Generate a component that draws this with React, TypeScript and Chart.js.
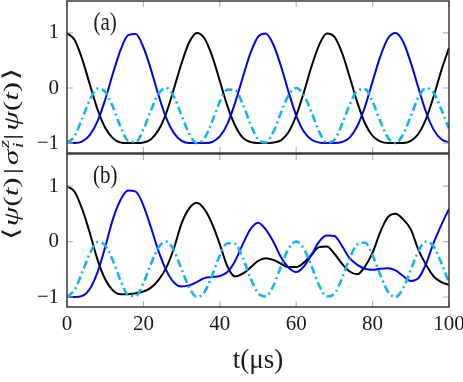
import React, { useEffect, useRef } from 'react';
import { Chart, registerables } from 'chart.js';
Chart.register(...registerables);

// time axis (μs)
const times = [0, 2, 4, 6, 8, 10, 12, 14, 16, 18, 20, 22, 24, 26, 28, 30, 32, 34, 36, 38, 40, 42, 44, 46, 48, 50,
  52, 54, 56, 58, 60, 62, 64, 66, 68, 70, 72, 74, 76, 78, 80, 82, 84, 86, 88, 90, 92, 94, 96, 98, 100];

// panel (a)
const blackA = [1.00, 0.87, 0.52, 0.06, -0.39, -0.72, -0.91, -0.99, -1.00, -1.00, -0.99, -0.93, -0.76, -0.45, -0.01, 0.45, 0.83,
  1.00, 0.90, 0.58, 0.13, -0.33, -0.68, -0.90, -0.98, -1.00, -1.00, -0.99, -0.95, -0.80, -0.50, -0.08, 0.39, 0.78, 0.99,
  0.93, 0.64, 0.20, -0.26, -0.64, -0.87, -0.97, -1.00, -1.00, -1.00, -0.96, -0.83, -0.56, -0.15, 0.32, 0.73];
const blueA = [-1.00, -1.00, -0.97, -0.85, -0.60, -0.21, 0.26, 0.69, 0.96, 0.98, 0.74, 0.33, -0.14, -0.55, -0.82, -0.96, -1.00,
  -1.00, -1.00, -0.98, -0.88, -0.65, -0.27, 0.19, 0.63, 0.93, 0.99, 0.79, 0.40, -0.07, -0.50, -0.79, -0.94, -0.99, -1.00,
  -1.00, -0.98, -0.90, -0.69, -0.34, 0.12, 0.57, 0.90, 1.00, 0.84, 0.46, 0.00, -0.44, -0.76, -0.93, -0.99];
const cyanA = [-1.00, -0.87, -0.55, -0.21, -0.01, -0.07, -0.34, -0.70, -0.96, -0.98, -0.75, -0.40, -0.10, 0.00, -0.16, -0.50,
  -0.83, -1.00, -0.91, -0.61, -0.25, -0.03, -0.04, -0.29, -0.65, -0.93, -0.99, -0.80, -0.45, -0.13, 0.00, -0.13, -0.44,
  -0.79, -0.99, -0.94, -0.66, -0.30, -0.05, -0.02, -0.25, -0.60, -0.90, -1.00, -0.84, -0.51, -0.17, 0.00, -0.09, -0.39, -0.74];

// panel (b)
const blackB = [1.00, 0.90, 0.58, 0.15, -0.33, -0.68, -0.88, -0.95, -0.95, -0.93, -0.90, -0.83, -0.69, -0.47, -0.12, 0.33, 0.60,
  0.70, 0.58, 0.32, -0.05, -0.45, -0.63, -0.58, -0.47, -0.35, -0.30, -0.33, -0.40, -0.46, -0.46, -0.38, -0.24, -0.10, -0.09,
  -0.22, -0.40, -0.54, -0.59, -0.45, -0.20, 0.17, 0.44, 0.50, 0.40, 0.22, -0.15, -0.42, -0.63, -0.73, -0.78];
const blueB = [-1.00, -1.00, -0.98, -0.85, -0.55, -0.10, 0.40, 0.75, 0.92, 0.90, 0.65, 0.25, -0.18, -0.52, -0.74, -0.81, -0.79,
  -0.73, -0.66, -0.64, -0.62, -0.55, -0.35, -0.05, 0.22, 0.34, 0.22, 0.00, -0.28, -0.47, -0.55, -0.45, -0.24, 0.00, 0.11,
  0.10, -0.08, -0.30, -0.42, -0.49, -0.51, -0.49, -0.48, -0.52, -0.62, -0.71, -0.66, -0.40, -0.02, 0.30, 0.59];
const cyanB = [-1.00, -0.87, -0.55, -0.21, -0.01, -0.07, -0.34, -0.70, -0.96, -0.98, -0.75, -0.40, -0.10, 0.00, -0.16, -0.50,
  -0.83, -1.00, -0.91, -0.61, -0.25, -0.03, -0.04, -0.29, -0.65, -0.93, -0.99, -0.80, -0.45, -0.13, 0.00, -0.13, -0.44,
  -0.79, -0.99, -0.94, -0.66, -0.30, -0.05, -0.02, -0.25, -0.60, -0.90, -1.00, -0.84, -0.51, -0.17, 0.00, -0.09, -0.39, -0.74];

const xTickValues = [0, 20, 40, 60, 80, 100];
const xTickLabels = ['0', '20', '40', '60', '80', '100'];
const yTickValues = [-1, 0, 1];
const yTickLabels = ['\u22121', '0', '1'];
const panelLabels = ['(a)', '(b)'];
const xTitle = 't(\u03bcs)';

const SERIF = '"Liberation Serif", "DejaVu Serif", serif';
const W = 463;
const H = 382;

const framePlugin = {
  id: 'panelFrame',
  afterDatasetsDraw(chart: any, _args: any, opts: any) {
    const { ctx, chartArea: a, scales } = chart;
    const xs = scales.x;
    const ys = scales.y;
    ctx.save();
    ctx.strokeStyle = '#b4b4b4';
    ctx.lineWidth = 1.2;
    ctx.beginPath();
    for (const v of xTickValues) {
      const px = xs.getPixelForValue(v);
      ctx.moveTo(px, a.top); ctx.lineTo(px, a.top + 6);
      ctx.moveTo(px, a.bottom); ctx.lineTo(px, a.bottom - 6);
    }
    for (const v of yTickValues) {
      const py = ys.getPixelForValue(v);
      ctx.moveTo(a.left, py); ctx.lineTo(a.left + 6, py);
      ctx.moveTo(a.right, py); ctx.lineTo(a.right - 6, py);
    }
    ctx.stroke();
    ctx.strokeStyle = '#2b2b2b';
    ctx.lineWidth = 1.4;
    ctx.strokeRect(a.left, a.top, a.right - a.left, a.bottom - a.top);
    ctx.fillStyle = '#1a1a1a';
    ctx.font = `21px ${SERIF}`;
    ctx.textAlign = 'center';
    ctx.textBaseline = 'middle';
    ctx.translate(xs.getPixelForValue(opts.labelX), ys.getPixelForValue(opts.labelY));
    ctx.scale(1, 1.22);
    ctx.fillText(opts.text, 0, 0);
    ctx.restore();
  },
};

const yLabelPlugin = {
  id: 'yLabel',
  afterDraw(chart: any, _args: any, opts: any) {
    if (!opts || !opts.show) return;
    const { ctx } = chart;
    const big = `22px ${SERIF}`;
    const bigIt = `italic 22px ${SERIF}`;
    const small = `italic 15px ${SERIF}`;
    type Seg = { t: string; f: string; gap?: number; sup?: string; sub?: string };
    const segs: Seg[] = [
      { t: '\u27e8', f: big, gap: 1 },
      { t: '\u03c8', f: bigIt },
      { t: '(', f: big },
      { t: 't', f: bigIt },
      { t: ')', f: big, gap: 2 },
      { t: '|', f: big, gap: 2 },
      { t: '\u03c3', f: bigIt, sup: 'z', sub: 'i' },
      { t: '|', f: big, gap: 2 },
      { t: '\u03c8', f: bigIt },
      { t: '(', f: big },
      { t: 't', f: bigIt },
      { t: ')', f: big, gap: 1 },
      { t: '\u27e9', f: big },
    ];
    ctx.save();
    const widths = segs.map((s) => {
      ctx.font = s.f;
      let w = ctx.measureText(s.t).width;
      if (s.sup || s.sub) {
        ctx.font = small;
        w += Math.max(ctx.measureText(s.sup || '').width, ctx.measureText(s.sub || '').width) + 1;
      }
      return w + (s.gap || 0);
    });
    const total = widths.reduce((p, c) => p + c, 0);
    const sx = opts.length / total;
    ctx.translate(opts.cx, opts.cy);
    ctx.rotate(-Math.PI / 2);
    ctx.scale(sx, 1);
    ctx.fillStyle = '#1a1a1a';
    ctx.textAlign = 'left';
    ctx.textBaseline = 'alphabetic';
    let x = -total / 2;
    const base = 5.5;
    segs.forEach((s, i) => {
      ctx.font = s.f;
      ctx.fillText(s.t, x, base);
      const mw = ctx.measureText(s.t).width;
      if (s.sup || s.sub) {
        ctx.font = small;
        ctx.fillText(s.sup || '', x + mw + 1, base - 9);
        ctx.fillText(s.sub || '', x + mw + 1, base + 5);
      }
      x += widths[i];
    });
    ctx.restore();
  },
};

function series(vals: number[]) {
  return times.map((t, i) => ({ x: t, y: vals[i] }));
}

function datasets(black: number[], blue: number[], cyan: number[]) {
  const common = { pointRadius: 0, cubicInterpolationMode: 'monotone' as const, fill: false };
  return [
    { ...common, data: series(cyan), borderColor: '#14b4e8', borderWidth: 2.6, borderDash: [8, 3.5, 2, 3.5] },
    { ...common, data: series(blue), borderColor: '#0000f0', borderWidth: 2 },
    { ...common, data: series(black), borderColor: '#000000', borderWidth: 2 },
  ];
}

function yScale() {
  return {
    type: 'linear' as const,
    position: 'left' as const,
    min: -1.18,
    max: 1.58,
    afterBuildTicks: (s: any) => { s.ticks = yTickValues.map((v) => ({ value: v })); },
    afterFit: (s: any) => { s.width = 67; s.paddingTop = 0; s.paddingBottom = 0; },
    grid: { display: false, drawTicks: false },
    border: { display: false },
    ticks: {
      font: { family: SERIF, size: 21 },
      color: '#1a1a1a',
      padding: 8,
      autoSkip: false,
      callback: (_v: any, i: number) => yTickLabels[i],
    },
  };
}

function makeConfig(panel: 0 | 1): any {
  const isTop = panel === 0;
  const data = isTop ? datasets(blackA, blueA, cyanA) : datasets(blackB, blueB, cyanB);
  const x: any = isTop
    ? { type: 'linear', min: 0, max: 100, display: false }
    : {
        type: 'linear',
        min: 0,
        max: 100,
        afterBuildTicks: (s: any) => { s.ticks = xTickValues.map((v) => ({ value: v })); },
        afterFit: (s: any) => { s.height = 75; s.paddingLeft = 0; s.paddingRight = 0; },
        grid: { display: false, drawTicks: false },
        border: { display: false },
        ticks: {
          font: { family: SERIF, size: 21 },
          color: '#1a1a1a',
          padding: 5,
          maxRotation: 0,
          autoSkip: false,
          callback: (_v: any, i: number) => xTickLabels[i],
        },
        title: {
          display: true,
          text: xTitle,
          font: { family: SERIF, size: 27 },
          color: '#1a1a1a',
          padding: { top: 0, bottom: 5 },
        },
      };
  return {
    type: 'line',
    data: { datasets: data },
    options: {
      responsive: false,
      animation: false,
      devicePixelRatio: 1,
      events: [],
      layout: {
        padding: isTop
          ? { left: 0, right: 14, top: 1, bottom: 229 }
          : { left: 0, right: 14, top: 154, bottom: 0 },
      },
      scales: { x, y: yScale() },
      plugins: {
        legend: { display: false },
        tooltip: { enabled: false },
        panelFrame: { text: panelLabels[panel], labelX: 10, labelY: 1.18 },
        yLabel: { show: isTop, cx: 12, cy: 154, length: 172 },
      },
    },
    plugins: [framePlugin, yLabelPlugin],
  };
}

export default function App() {
  const topRef = useRef<HTMLCanvasElement>(null);
  const botRef = useRef<HTMLCanvasElement>(null);
  useEffect(() => {
    const c1 = new Chart(topRef.current as HTMLCanvasElement, makeConfig(0));
    const c2 = new Chart(botRef.current as HTMLCanvasElement, makeConfig(1));
    return () => {
      c1.destroy();
      c2.destroy();
    };
  }, []);
  return (
    <div style={{ position: 'fixed', left: 0, top: 0, width: W, height: H, background: '#ffffff' }}>
      <canvas ref={topRef} width={W} height={H} style={{ position: 'absolute', left: 0, top: 0 }} />
      <canvas ref={botRef} width={W} height={H} style={{ position: 'absolute', left: 0, top: 0 }} />
    </div>
  );
}
